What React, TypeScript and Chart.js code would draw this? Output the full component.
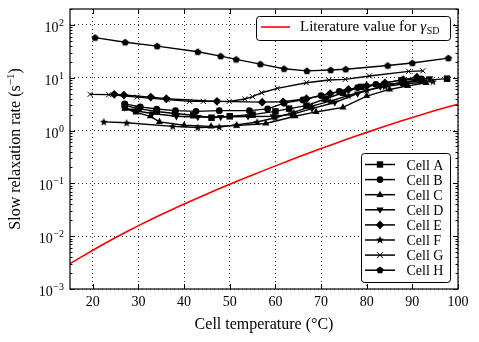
import React, { useEffect, useRef } from 'react';
import { Chart, registerables } from 'chart.js';
Chart.register(...registerables);

// ---------------- data ----------------
const cellAX = [27, 30, 34, 38, 42, 46, 50, 55, 60, 63, 66.8, 71, 74.8, 78.8, 84, 88, 92, 97.6];
const cellAY = [3.0, 2.6, 2.3, 2.1, 1.95, 1.75, 1.86, 2.0, 2.3, 2.6, 2.96, 4.0, 5.2, 6.7, 7.5, 8.0, 8.8, 9.6];

const cellBX = [27, 30.4, 34, 38.1, 42.6, 47.7, 54.3, 58.3, 61.9, 66, 70, 74, 78, 82, 87.6, 92];
const cellBY = [3.2, 2.8, 2.55, 2.38, 2.31, 2.38, 2.38, 2.57, 3.3, 3.8, 4.6, 5.5, 6.5, 7.5, 9.0, 9.5];

const cellCX = [27, 29.5, 32.6, 34.6, 40, 45.9, 51.5, 57.9, 64.3, 68.9, 74.8, 80, 85, 89, 93];
const cellCY = [2.6, 2.2, 1.86, 1.46, 1.26, 1.2, 1.24, 1.36, 1.86, 2.25, 2.75, 4.5, 6.0, 7.0, 8.0];

const cellDX = [27, 29, 33, 38.3, 43, 48, 54, 59.5, 63.5, 68, 73, 78, 83, 88, 93.8];
const cellDY = [2.7, 2.4, 2.1, 1.86, 1.8, 1.8, 1.85, 1.86, 2.0, 2.6, 3.4, 5.0, 6.8, 8.2, 9.8];

const cellEX = [24.7, 26.8, 32.7, 36.1, 47.2, 57.1, 61.7, 66.8, 72, 76, 80, 84, 88, 91];
const cellEY = [4.84, 4.7, 4.3, 4.0, 3.57, 3.45, 3.5, 4.0, 5.0, 6.0, 7.0, 8.0, 9.2, 10.2];

const cellFX = [22.4, 27.4, 37.5, 43, 47.7, 51.5, 56, 60, 64, 68, 72, 76, 80, 84, 88, 94.5];
const cellFY = [1.46, 1.4, 1.2, 1.14, 1.17, 1.28, 1.45, 1.75, 2.2, 2.9, 3.6, 4.6, 5.8, 6.8, 7.6, 8.5];

const cellGX = [19.4, 23.5, 29.7, 36.3, 41.2, 44.2, 49.9, 53.3, 55.0, 57.0, 60.4, 66.8, 71.7, 75.3, 80.6, 89.2, 92.3];
const cellGY = [4.84, 4.78, 4.3, 3.85, 3.57, 3.57, 3.57, 3.96, 4.37, 5.2, 6.3, 8.05, 9.05, 9.3, 10.8, 13.2, 13.5];

const cellHX = [20.5, 27.1, 34.1, 43.0, 48.0, 51.4, 56.7, 61.9, 66.9, 72.1, 75.4, 84.6, 90.0, 97.9];
const cellHY = [57.5, 47, 39.7, 31, 25.7, 22.2, 18.1, 14.8, 13.5, 14, 14.5, 17, 19, 23.5];

const litX = [15, 20, 25, 30, 35, 40, 45, 50, 55, 60, 65, 70, 75, 80, 85, 90, 95, 100];
const litY = [0.00302, 0.00543, 0.00944, 0.01585, 0.0257, 0.0407, 0.0631, 0.0962, 0.1445, 0.2143, 0.314, 0.455, 0.652, 0.923, 1.291, 1.774, 2.393, 3.155];

const cellLabels = ['Cell A', 'Cell B', 'Cell C', 'Cell D', 'Cell E', 'Cell F', 'Cell G', 'Cell H'];
const litLabel = 'Literature value for ';
const xTicks = [20, 30, 40, 50, 60, 70, 80, 90, 100];
const yDecades = [-3, -2, -1, 0, 1, 2];
const xTitle = 'Cell temperature (°C)';
const yTitleMain = 'Slow relaxation rate (s';
const yTitleSup = '−1';

const FONT = '"Liberation Serif", "DejaVu Serif", serif';

type MarkerKind = 'square' | 'circle' | 'tri' | 'tridown' | 'diamond' | 'star' | 'x' | 'pent';
const markerKinds: MarkerKind[] = ['square', 'circle', 'tri', 'tridown', 'diamond', 'star', 'x', 'pent'];

function drawMarker(ctx: CanvasRenderingContext2D, kind: MarkerKind, x: number, y: number) {
  ctx.save();
  ctx.fillStyle = '#000';
  ctx.strokeStyle = '#000';
  ctx.lineWidth = 1;
  ctx.beginPath();
  if (kind === 'square') {
    ctx.rect(x - 3.2, y - 3.2, 6.4, 6.4);
    ctx.fill();
  } else if (kind === 'circle') {
    ctx.arc(x, y, 3.4, 0, Math.PI * 2);
    ctx.fill();
  } else if (kind === 'tri' || kind === 'tridown') {
    const s = kind === 'tri' ? 1 : -1;
    ctx.moveTo(x, y - 4 * s);
    ctx.lineTo(x + 3.6, y + 2.4 * s);
    ctx.lineTo(x - 3.6, y + 2.4 * s);
    ctx.closePath();
    ctx.fill();
  } else if (kind === 'diamond') {
    ctx.moveTo(x, y - 4.3);
    ctx.lineTo(x + 4.3, y);
    ctx.lineTo(x, y + 4.3);
    ctx.lineTo(x - 4.3, y);
    ctx.closePath();
    ctx.fill();
  } else if (kind === 'star' || kind === 'pent') {
    const n = 5;
    if (kind === 'star') {
      for (let i = 0; i < 2 * n; i++) {
        const r = i % 2 === 0 ? 4.2 : 1.8;
        const a = -Math.PI / 2 + (i * Math.PI) / n;
        const px = x + r * Math.cos(a), py = y + r * Math.sin(a);
        if (i === 0) ctx.moveTo(px, py); else ctx.lineTo(px, py);
      }
    } else {
      for (let i = 0; i < n; i++) {
        const a = -Math.PI / 2 + (i * 2 * Math.PI) / n;
        const px = x + 3.8 * Math.cos(a), py = y + 3.8 * Math.sin(a);
        if (i === 0) ctx.moveTo(px, py); else ctx.lineTo(px, py);
      }
    }
    ctx.closePath();
    ctx.fill();
  } else if (kind === 'x') {
    ctx.moveTo(x - 3, y - 3); ctx.lineTo(x + 3, y + 3);
    ctx.moveTo(x + 3, y - 3); ctx.lineTo(x - 3, y + 3);
    ctx.stroke();
  }
  ctx.restore();
}

function markerCanvas(kind: MarkerKind): HTMLCanvasElement {
  const c = document.createElement('canvas');
  c.width = 10; c.height = 10;
  const ctx = c.getContext('2d')!;
  drawMarker(ctx, kind, 5, 5.3);
  return c;
}

function roundRect(ctx: CanvasRenderingContext2D, x: number, y: number, w: number, h: number, r: number) {
  ctx.beginPath();
  ctx.moveTo(x + r, y);
  ctx.lineTo(x + w - r, y);
  ctx.arcTo(x + w, y, x + w, y + r, r);
  ctx.lineTo(x + w, y + h - r);
  ctx.arcTo(x + w, y + h, x + w - r, y + h, r);
  ctx.lineTo(x + r, y + h);
  ctx.arcTo(x, y + h, x, y + h - r, r);
  ctx.lineTo(x, y + r);
  ctx.arcTo(x, y, x + r, y, r);
  ctx.closePath();
}

const overlayPlugin = {
  id: 'overlay',
  afterDatasetsDraw(chart: any) {
    const { ctx, chartArea: a, scales } = chart;
    const xs = scales.x, ys = scales.y;
    ctx.save();
    // frame
    ctx.strokeStyle = '#000';
    ctx.lineWidth = 1.2;
    ctx.strokeRect(a.left, a.top, a.right - a.left, a.bottom - a.top);
    // x ticks (inward, bottom and top)
    ctx.lineWidth = 1;
    ctx.beginPath();
    for (const v of xTicks) {
      const px = Math.round(xs.getPixelForValue(v)) + 0.5;
      ctx.moveTo(px, a.bottom); ctx.lineTo(px, a.bottom - 5);
      ctx.moveTo(px, a.top); ctx.lineTo(px, a.top + 5);
    }
    // y ticks major & minor
    for (const k of yDecades) {
      for (let m = 1; m <= 9; m++) {
        const v = m * Math.pow(10, k);
        if (v > ys.max || v < ys.min) continue;
        const py = Math.round(ys.getPixelForValue(v)) + 0.5;
        const len = m === 1 ? 5 : 2.5;
        ctx.moveTo(a.left, py); ctx.lineTo(a.left + len, py);
        ctx.moveTo(a.right, py); ctx.lineTo(a.right - len, py);
      }
    }
    ctx.stroke();

    // y tick labels
    ctx.fillStyle = '#000';
    ctx.textBaseline = 'alphabetic';
    for (const k of yDecades) {
      const py = ys.getPixelForValue(Math.pow(10, k));
      const exp = k < 0 ? '−' + Math.abs(k) : String(k);
      ctx.font = `10px ${FONT}`;
      const ew = ctx.measureText(exp).width;
      const right = a.left - 6;
      ctx.textAlign = 'left';
      ctx.fillText(exp, right - ew, py + 1);
      ctx.font = `14px ${FONT}`;
      ctx.textAlign = 'right';
      ctx.fillText('10', right - ew - 0.5, py + 7);
    }

    // y title (rotated)
    ctx.save();
    ctx.translate(20, (a.top + a.bottom) / 2 + 0);
    ctx.rotate(-Math.PI / 2);
    ctx.font = `16px ${FONT}`;
    const w1 = ctx.measureText(yTitleMain).width;
    ctx.font = `11px ${FONT}`;
    const w2 = ctx.measureText(yTitleSup).width;
    ctx.font = `16px ${FONT}`;
    const w3 = ctx.measureText(')').width;
    let sx = -(w1 + w2 + w3) / 2;
    ctx.textAlign = 'left';
    ctx.fillText(yTitleMain, sx, 0);
    sx += w1;
    ctx.font = `11px ${FONT}`;
    ctx.fillText(yTitleSup, sx, -6);
    sx += w2;
    ctx.font = `16px ${FONT}`;
    ctx.fillText(')', sx, 0);
    ctx.restore();

    // x title
    ctx.font = `16px ${FONT}`;
    ctx.textAlign = 'center';
    ctx.fillText(xTitle, (a.left + a.right) / 2, 329);

    // legend 1 (literature)
    ctx.lineWidth = 1;
    roundRect(ctx, 256.5, 16.5, 194, 24, 3);
    ctx.fillStyle = '#fff';
    ctx.fill();
    ctx.strokeStyle = '#000';
    ctx.stroke();
    ctx.beginPath();
    ctx.strokeStyle = '#ff0000';
    ctx.lineWidth = 1.6;
    ctx.moveTo(261, 27); ctx.lineTo(290, 27);
    ctx.stroke();
    ctx.fillStyle = '#000';
    ctx.textAlign = 'left';
    ctx.font = `15px ${FONT}`;
    ctx.fillText(litLabel, 300, 31);
    let lx = 300 + ctx.measureText(litLabel).width;
    ctx.font = `italic 15px ${FONT}`;
    ctx.fillText('γ', lx, 31);
    lx += ctx.measureText('γ').width + 0.5;
    ctx.font = `10px ${FONT}`;
    ctx.fillText('SD', lx, 33.5);

    // legend 2 (cells)
    ctx.lineWidth = 1;
    roundRect(ctx, 361.5, 153.5, 89, 129, 3);
    ctx.fillStyle = '#fff';
    ctx.fill();
    ctx.strokeStyle = '#000';
    ctx.stroke();
    ctx.font = `14px ${FONT}`;
    cellLabels.forEach((lab, i) => {
      const cy = 164.5 + i * 15.1;
      ctx.beginPath();
      ctx.strokeStyle = '#000';
      ctx.lineWidth = 1.5;
      ctx.moveTo(365, cy); ctx.lineTo(395, cy);
      ctx.stroke();
      drawMarker(ctx, markerKinds[i], 380, cy);
      ctx.fillStyle = '#000';
      ctx.textAlign = 'left';
      ctx.fillText(lab, 406.5, cy + 5);
    });
    ctx.restore();
  },
};

export default function App() {
  const ref = useRef<HTMLCanvasElement | null>(null);
  useEffect(() => {
    if (!ref.current) return;
    const pts = (xs: number[], ys: number[]) => xs.map((x, i) => ({ x, y: ys[i] }));
    const cellData = [
      pts(cellAX, cellAY), pts(cellBX, cellBY), pts(cellCX, cellCY), pts(cellDX, cellDY),
      pts(cellEX, cellEY), pts(cellFX, cellFY), pts(cellGX, cellGY), pts(cellHX, cellHY),
    ];
    const styles: any[] = [
      { pointStyle: 'rect', pointRadius: 4.6 },
      { pointStyle: 'circle', pointRadius: 3.4 },
      { pointStyle: 'triangle', pointRadius: 4.1 },
      { pointStyle: 'triangle', pointRadius: 4.1, pointRotation: 180 },
      { pointStyle: 'rectRot', pointRadius: 4.4 },
      { pointStyle: markerCanvas('star'), pointRadius: 4 },
      { pointStyle: 'crossRot', pointRadius: 3.6, pointBorderWidth: 1 },
      { pointStyle: markerCanvas('pent'), pointRadius: 4 },
    ];
    const datasets: any[] = cellData.map((d, i) => ({
      label: cellLabels[i],
      data: d,
      borderColor: '#000',
      backgroundColor: '#000',
      borderWidth: 1.4,
      pointBackgroundColor: '#000',
      pointBorderColor: '#000',
      pointBorderWidth: 0,
      tension: 0,
      ...styles[i],
    }));
    datasets.unshift({
      label: 'lit',
      data: pts(litX, litY),
      borderColor: '#ff0000',
      borderWidth: 1.6,
      pointRadius: 0,
      tension: 0.2,
    });
    const chart = new Chart(ref.current, {
      type: 'line',
      data: { datasets },
      options: {
        animation: false,
        responsive: true,
        maintainAspectRatio: false,
        layout: { padding: { top: 9, right: 21, left: 0, bottom: 0 } },
        plugins: { legend: { display: false }, tooltip: { enabled: false } },
        scales: {
          x: {
            type: 'linear',
            min: 15,
            max: 100,
            afterBuildTicks: (s: any) => { s.ticks = xTicks.map((v) => ({ value: v })); },
            afterFit: (s: any) => { s.height = 53; },
            grid: { color: '#000', lineWidth: 0.8, drawTicks: false },
            border: { display: false, dash: [1, 3] },
            ticks: { color: '#000', font: { family: FONT, size: 14 }, padding: 5, maxRotation: 0 },
          },
          y: {
            type: 'logarithmic',
            min: 0.001,
            max: 200,
            afterBuildTicks: (s: any) => { s.ticks = yDecades.map((k) => ({ value: Math.pow(10, k) })); },
            afterFit: (s: any) => { s.width = 70; },
            grid: { color: '#000', lineWidth: 0.8, drawTicks: false },
            border: { display: false, dash: [1, 3] },
            ticks: { display: false },
          },
        },
      } as any,
      plugins: [overlayPlugin],
    });
    return () => chart.destroy();
  }, []);
  return (
    <div style={{ position: 'fixed', left: 0, top: 0, width: 479, height: 342, background: '#fff' }}>
      <canvas ref={ref} />
    </div>
  );
}
